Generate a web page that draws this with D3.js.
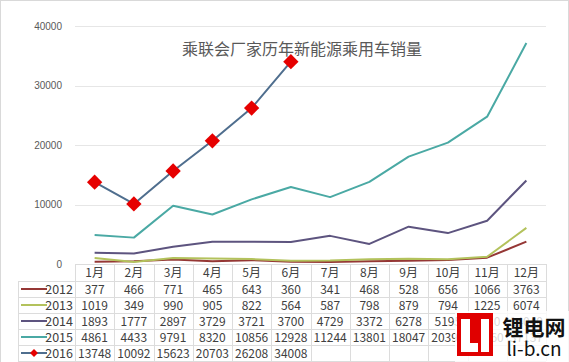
<!DOCTYPE html>
<html>
<head>
<meta charset="utf-8">
<script src="https://cdn.jsdelivr.net/npm/d3@7"></script>
<style>
  body { margin: 0; background: #fff; }
  svg { display: block; font-family: "Noto Sans CJK SC", "Noto Sans", sans-serif; }
</style>
</head>
<body>
<div id="chart"></div>
<script>
// chart data
var months = ['1月', '2月', '3月', '4月', '5月', '6月', '7月', '8月', '9月', '10月', '11月', '12月'];
var years = ['2012', '2013', '2014', '2015', '2016'];
var sales2012 = [377, 466, 771, 465, 643, 360, 341, 468, 528, 656, 1066, 3763];
var sales2013 = [1019, 349, 990, 905, 822, 564, 587, 798, 879, 794, 1225, 6074];
var sales2014 = [1893, 1777, 2897, 3729, 3721, 3700, 4729, 3372, 6278, 5195, 7280, 14040];
var sales2015 = [4861, 4433, 9791, 8320, 10856, 12928, 11244, 13801, 18047, 20395, 24760, 37137];
var sales2016 = [13748, 10092, 15623, 20703, 26208, 34008];
var yTicks = [0, 10000, 20000, 30000, 40000];
var title = '乘联会厂家历年新能源乘用车销量';

var colors = ['#953735', '#b3c25c', '#5d547f', '#4aa9a4', '#4f6e8e'];
var series = [sales2012, sales2013, sales2014, sales2015, sales2016];

var W = 569, H = 362;
var plotL = 75, plotR = 546, plotT = 26, plotB = 264;
var tableLeft = 18, rowH = 16;

var svg = d3.select('#chart').append('svg').attr('width', W).attr('height', H);

// thin frame of the screenshot
svg.append('rect').attr('x', 0.5).attr('y', 0.5).attr('width', W - 1).attr('height', H + 5)
  .attr('fill', 'none').attr('stroke', '#d9d9d9');

var x = d3.scaleBand().domain(months).range([plotL, plotR]);
var y = d3.scaleLinear().domain([0, 40000]).range([plotB, plotT]);

// gridlines
svg.selectAll('.grid').data(yTicks.slice(1)).enter().append('line')
  .attr('x1', plotL).attr('x2', plotR)
  .attr('y1', function(d) { return Math.round(y(d)) + 0.5; })
  .attr('y2', function(d) { return Math.round(y(d)) + 0.5; })
  .attr('stroke', '#e6e6e6').attr('stroke-width', 1);

// y axis labels
var yAxis = d3.axisLeft(y).tickValues(yTicks).tickFormat(d3.format('d')).tickSize(0).tickPadding(13);
var ya = svg.append('g').attr('transform', 'translate(' + plotL + ',0)').call(yAxis);
ya.select('.domain').remove();
ya.selectAll('text').attr('fill', '#595959').style('font-size', '10px')
  .style('font-family', '"Liberation Sans", Arial, sans-serif');

// title
svg.append('text').attr('x', 302).attr('y', 55).attr('text-anchor', 'middle')
  .attr('fill', '#595959').style('font-size', '16px').text(title);

// lines
var line = d3.line()
  .x(function(d, i) { return x(months[i]) + x.bandwidth() / 2; })
  .y(function(d) { return y(d); });

series.forEach(function(s, k) {
  svg.append('path').datum(s).attr('d', line)
    .attr('fill', 'none').attr('stroke', colors[k]).attr('stroke-width', 2)
    .attr('stroke-linejoin', 'round');
});

// diamonds for 2016
svg.selectAll('.mark').data(sales2016).enter().append('path')
  .attr('d', d3.symbol().type(d3.symbolDiamond2).size(150))
  .attr('transform', function(d, i) {
    return 'translate(' + (x(months[i]) + x.bandwidth() / 2) + ',' + y(d) + ')';
  })
  .attr('fill', '#e60000');

// data table
var tbl = svg.append('g');
var gridCol = '#dcdcdc';
var rowsTop = plotB + 17;
var rowsBottom = rowsTop + rowH * 5;

// x axis line / table top
tbl.append('line').attr('x1', plotL).attr('x2', plotR).attr('y1', plotB + 0.5).attr('y2', plotB + 0.5)
  .attr('stroke', gridCol);
for (var r = 0; r <= 5; r++) {
  var yy = rowsTop + r * rowH + 0.5;
  tbl.append('line').attr('x1', tableLeft).attr('x2', plotR).attr('y1', yy).attr('y2', yy)
    .attr('stroke', gridCol);
}
tbl.append('line').attr('x1', tableLeft + 0.5).attr('x2', tableLeft + 0.5)
  .attr('y1', rowsTop).attr('y2', rowsBottom).attr('stroke', gridCol);
d3.range(13).forEach(function(i) {
  var xx = Math.round(plotL + i * x.bandwidth()) + 0.5;
  tbl.append('line').attr('x1', xx).attr('x2', xx).attr('y1', plotB).attr('y2', rowsBottom)
    .attr('stroke', gridCol);
});

// month header
tbl.selectAll('.mon').data(months).enter().append('text')
  .attr('x', function(d) { return x(d) + x.bandwidth() / 2; })
  .attr('y', plotB + 13)
  .attr('text-anchor', 'middle').attr('fill', '#404040').style('font-size', '12px')
  .text(function(d) { return d; });

// rows
years.forEach(function(yr, k) {
  var cy = rowsTop + k * rowH + rowH / 2;
  tbl.append('line').attr('x1', 21).attr('x2', 47).attr('y1', cy).attr('y2', cy)
    .attr('stroke', colors[k]).attr('stroke-width', 2);
  if (k === 4) {
    tbl.append('path').attr('d', d3.symbol().type(d3.symbolDiamond2).size(40))
      .attr('transform', 'translate(34,' + cy + ')').attr('fill', '#e60000');
  }
  tbl.append('text').attr('x', 73).attr('y', cy + 4.5).attr('text-anchor', 'end')
    .attr('fill', '#404040').style('font-size', '12.5px').text(yr);
  tbl.selectAll('.v' + yr).data(series[k]).enter().append('text')
    .attr('x', function(d, i) { return x(months[i]) + x.bandwidth() / 2; })
    .attr('y', cy + 4.5)
    .attr('text-anchor', 'middle').attr('fill', '#404040').style('font-size', '12px')
    .text(function(d) { return d; });
});

// watermark (sits over the table, which shows faintly through it)
var wm = svg.append('g');
wm.append('rect').attr('x', 455).attr('y', 311).attr('width', 114).attr('height', 51)
  .attr('fill', '#fff').attr('opacity', 0.8);
wm.append('rect').attr('x', 457).attr('y', 313).attr('width', 36).attr('height', 43).attr('fill', '#e00000');
wm.append('rect').attr('x', 461).attr('y', 319).attr('width', 9).attr('height', 33).attr('fill', '#fff');
wm.append('rect').attr('x', 461).attr('y', 343).attr('width', 17).attr('height', 9).attr('fill', '#fff');
wm.append('rect').attr('x', 481).attr('y', 319).attr('width', 8).attr('height', 33).attr('fill', '#fff');
wm.append('text').attr('x', 534).attr('y', 335).attr('text-anchor', 'middle')
  .attr('fill', '#111').style('font-size', '21px').style('font-weight', 'bold').text('锂电网');
wm.append('text').attr('x', 534).attr('y', 356).attr('text-anchor', 'middle')
  .attr('fill', '#111').style('font-size', '19px').text('li-b.cn');
</script>
</body>
</html>
